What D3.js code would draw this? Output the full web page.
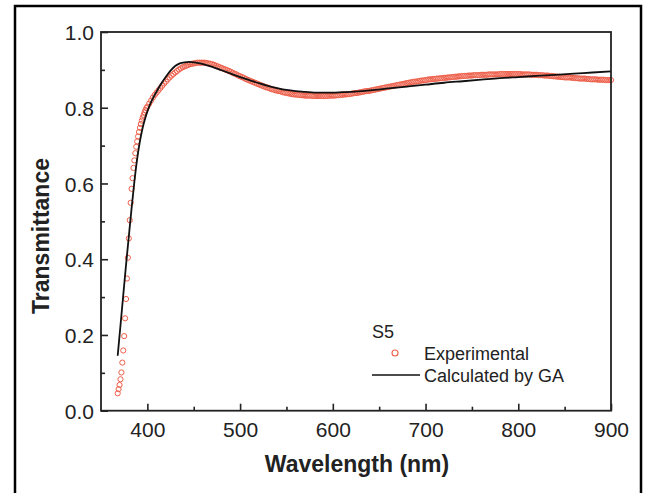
<!DOCTYPE html>
<html>
<head>
<meta charset="utf-8">
<script src="https://cdn.jsdelivr.net/npm/d3@7"></script>
<style>
  body { margin: 0; background: #fff; }
  text { font-family: "Liberation Sans", Arial, Helvetica, sans-serif; fill: #222; }
</style>
</head>
<body>
<script>
// Experimental points (wavelength nm, transmittance)
var expWl = [368, 369, 370, 371, 372, 373, 374, 375, 376, 377, 378, 379, 380, 381, 382, 383, 384, 385, 386, 387, 388, 389, 390, 391, 392, 393, 394, 395, 396, 397, 398, 399,
  400, 402, 404, 406, 408, 410, 412, 414, 416, 418,
  420, 422, 424, 426, 428, 430, 432, 434, 436, 438,
  440, 442, 444, 446, 448, 450, 452, 454, 456, 458,
  460, 462, 464, 466, 468, 470, 472, 474, 476, 478,
  480, 482, 484, 486, 488, 490, 492, 494, 496, 498,
  500, 502, 504, 506, 508, 510, 512, 514, 516, 518,
  520, 522, 524, 526, 528, 530, 532, 534, 536, 538,
  540, 542, 544, 546, 548, 550, 552, 554, 556, 558,
  560, 562, 564, 566, 568, 570, 572, 574, 576, 578,
  580, 582, 584, 586, 588, 590, 592, 594, 596, 598,
  600, 602, 604, 606, 608, 610, 612, 614, 616, 618,
  620, 622, 624, 626, 628, 630, 632, 634, 636, 638,
  640, 642, 644, 646, 648, 650, 652, 654, 656, 658,
  660, 662, 664, 666, 668, 670, 672, 674, 676, 678,
  680, 682, 684, 686, 688, 690, 692, 694, 696, 698,
  700, 702, 704, 706, 708, 710, 712, 714, 716, 718,
  720, 722, 724, 726, 728, 730, 732, 734, 736, 738,
  740, 742, 744, 746, 748, 750, 752, 754, 756, 758,
  760, 762, 764, 766, 768, 770, 772, 774, 776, 778,
  780, 782, 784, 786, 788, 790, 792, 794, 796, 798,
  800, 802, 804, 806, 808, 810, 812, 814, 816, 818,
  820, 822, 824, 826, 828, 830, 832, 834, 836, 838,
  840, 842, 844, 846, 848, 850, 852, 854, 856, 858,
  860, 862, 864, 866, 868, 870, 872, 874, 876, 878,
  880, 882, 884, 886, 888, 890, 892, 894, 896, 898,
  900];
var expT = [0.046, 0.057, 0.068, 0.083, 0.101, 0.127, 0.159, 0.197, 0.244, 0.295, 0.349, 0.404, 0.455, 0.503, 0.549, 0.586, 0.614, 0.641, 0.661, 0.680, 0.697, 0.711, 0.724, 0.736, 0.747, 0.757, 0.766, 0.774, 0.781, 0.788, 0.794, 0.799,
  0.803, 0.811, 0.819, 0.827, 0.834, 0.840, 0.846, 0.852, 0.858, 0.864,
  0.869, 0.875, 0.880, 0.885, 0.889, 0.893, 0.897, 0.901, 0.904, 0.907,
  0.909, 0.911, 0.913, 0.915, 0.916, 0.917, 0.918, 0.919, 0.919, 0.919,
  0.919, 0.919, 0.918, 0.917, 0.916, 0.915, 0.913, 0.911, 0.909, 0.907,
  0.905, 0.903, 0.901, 0.899, 0.897, 0.895, 0.892, 0.890, 0.888, 0.885,
  0.883, 0.881, 0.879, 0.876, 0.874, 0.872, 0.870, 0.868, 0.866, 0.864,
  0.862, 0.860, 0.858, 0.856, 0.854, 0.853, 0.851, 0.849, 0.848, 0.846,
  0.845, 0.844, 0.843, 0.841, 0.840, 0.839, 0.838, 0.837, 0.836, 0.835,
  0.835, 0.834, 0.834, 0.833, 0.833, 0.832, 0.832, 0.832, 0.832, 0.831,
  0.831, 0.831, 0.831, 0.831, 0.831, 0.831, 0.831, 0.831, 0.832, 0.832,
  0.832, 0.832, 0.833, 0.833, 0.834, 0.834, 0.835, 0.835, 0.836, 0.836,
  0.837, 0.838, 0.839, 0.839, 0.840, 0.841, 0.842, 0.843, 0.844, 0.844,
  0.845, 0.846, 0.847, 0.848, 0.849, 0.850, 0.851, 0.852, 0.853, 0.854,
  0.855, 0.856, 0.857, 0.858, 0.859, 0.860, 0.861, 0.862, 0.863, 0.864,
  0.865, 0.866, 0.867, 0.868, 0.869, 0.869, 0.870, 0.871, 0.872, 0.872,
  0.873, 0.874, 0.875, 0.875, 0.876, 0.876, 0.877, 0.877, 0.878, 0.878,
  0.879, 0.879, 0.880, 0.880, 0.881, 0.881, 0.882, 0.882, 0.883, 0.883,
  0.884, 0.884, 0.884, 0.885, 0.885, 0.885, 0.886, 0.886, 0.886, 0.886,
  0.887, 0.887, 0.887, 0.887, 0.888, 0.888, 0.888, 0.888, 0.888, 0.888,
  0.889, 0.889, 0.889, 0.889, 0.889, 0.889, 0.889, 0.889, 0.889, 0.889,
  0.889, 0.889, 0.888, 0.888, 0.888, 0.888, 0.888, 0.887, 0.887, 0.887,
  0.887, 0.886, 0.886, 0.886, 0.885, 0.885, 0.885, 0.884, 0.884, 0.883,
  0.883, 0.882, 0.882, 0.881, 0.881, 0.880, 0.880, 0.880, 0.880, 0.879,
  0.879, 0.878, 0.878, 0.877, 0.877, 0.877, 0.877, 0.876, 0.876, 0.875,
  0.875, 0.875, 0.875, 0.874, 0.874, 0.874, 0.874, 0.873, 0.873, 0.873,
  0.873];

// GA fit curve
var gaWl = [368, 371, 374, 377, 380, 383, 386, 389, 392, 395, 398, 401, 405, 410, 415, 420, 425, 430, 435, 440, 445, 450, 455, 460, 470, 480, 490,
  500, 510, 520, 530, 540, 550, 560, 570, 580, 590, 600, 610, 620, 640, 660, 680, 700, 720, 740, 760, 780, 800, 820, 840, 860, 880, 900];
var gaT = [0.145, 0.225, 0.305, 0.385, 0.460, 0.535, 0.605, 0.665, 0.712, 0.748, 0.775, 0.797, 0.820, 0.843, 0.864, 0.882, 0.898, 0.910, 0.917, 0.920, 0.921, 0.920, 0.918, 0.915, 0.908, 0.899, 0.890,
  0.881, 0.873, 0.865, 0.858, 0.852, 0.847, 0.844, 0.842, 0.840, 0.840, 0.840, 0.841, 0.842, 0.846, 0.851, 0.856, 0.861, 0.866, 0.870, 0.874, 0.878, 0.881, 0.884, 0.887, 0.890, 0.893, 0.896];

var xTicks = [400, 500, 600, 700, 800, 900];
var xMinor = [450, 550, 650, 750, 850];
var yTicks = [0, 0.2, 0.4, 0.6, 0.8, 1.0];
var yMinor = [0.1, 0.3, 0.5, 0.7, 0.9];

window.onload = () => {
  var W = 646, H = 493;
  var left = 101, right = 611, top = 32, bottom = 410.7;

  var svg = d3.select("body").append("svg")
    .attr("width", W)
    .attr("height", H);

  // outer frame
  svg.append("rect")
    .attr("x", 15).attr("y", 6)
    .attr("width", 626).attr("height", 500)
    .attr("fill", "none")
    .attr("stroke", "#000")
    .attr("stroke-width", 2.5);

  var x = d3.scaleLinear().domain([350, 900]).range([left, right]);
  var y = d3.scaleLinear().domain([0, 1]).range([bottom, top]);

  var plot = svg.append("g");

  // experimental circles
  var pts = expWl.map(function (w, i) { return { w: w, t: expT[i] }; });
  plot.selectAll("circle.exp")
    .data(pts)
    .enter().append("circle")
    .attr("class", "exp")
    .attr("cx", function (d) { return x(d.w); })
    .attr("cy", function (d) { return y(d.t); })
    .attr("r", 2.6)
    .attr("fill", "none")
    .attr("stroke", "#ee5f4a")
    .attr("stroke-width", 1);

  // GA curve
  var ga = gaWl.map(function (w, i) { return { w: w, t: gaT[i] }; });
  var line = d3.line()
    .x(function (d) { return x(d.w); })
    .y(function (d) { return y(d.t); })
    .curve(d3.curveMonotoneX);
  plot.append("path")
    .datum(ga)
    .attr("d", line)
    .attr("fill", "none")
    .attr("stroke", "#111")
    .attr("stroke-width", 1.8);

  // axes (ticks inside)
  var xAxis = svg.append("g")
    .attr("transform", "translate(0," + bottom + ")")
    .call(d3.axisBottom(x).tickValues(xTicks).tickSizeInner(-7).tickSizeOuter(0).tickPadding(0).tickFormat(d3.format("d")));
  svg.append("g")
    .attr("transform", "translate(0," + bottom + ")")
    .call(d3.axisBottom(x).tickValues(xMinor).tickSizeInner(-4).tickSizeOuter(0).tickFormat(""));
  var yAxis = svg.append("g")
    .attr("transform", "translate(" + left + ",0)")
    .call(d3.axisLeft(y).tickValues(yTicks).tickSizeInner(-7).tickSizeOuter(0).tickPadding(0).tickFormat(d3.format(".1f")));
  svg.append("g")
    .attr("transform", "translate(" + left + ",0)")
    .call(d3.axisLeft(y).tickValues(yMinor).tickSizeInner(-4).tickSizeOuter(0).tickFormat(""));

  svg.selectAll(".domain").remove();
  svg.selectAll(".tick line").attr("stroke", "#222").attr("stroke-width", 1.6);

  xAxis.selectAll("text")
    .attr("y", 26).attr("dy", 0)
    .style("font-size", "21px")
    .attr("fill", "#222");
  yAxis.selectAll("text")
    .attr("x", -7).attr("dy", "0.36em")
    .style("font-size", "21px")
    .attr("fill", "#222");

  // plot frame
  svg.append("rect")
    .attr("x", left).attr("y", top)
    .attr("width", right - left).attr("height", bottom - top)
    .attr("fill", "none")
    .attr("stroke", "#222")
    .attr("stroke-width", 1.8);

  // axis titles
  svg.append("text")
    .attr("x", 357).attr("y", 472)
    .attr("text-anchor", "middle")
    .style("font-size", "23px")
    .style("font-weight", "bold")
    .text("Wavelength (nm)");
  svg.append("text")
    .attr("transform", "translate(49,236) rotate(-90)")
    .attr("text-anchor", "middle")
    .style("font-size", "23px")
    .style("font-weight", "bold")
    .text("Transmittance");

  // legend
  svg.append("text")
    .attr("x", 372).attr("y", 338)
    .style("font-size", "18px")
    .text("S5");
  svg.append("circle")
    .attr("cx", 395).attr("cy", 353)
    .attr("r", 3)
    .attr("fill", "none")
    .attr("stroke", "#ee5f4a")
    .attr("stroke-width", 1.1);
  svg.append("text")
    .attr("x", 424).attr("y", 360)
    .style("font-size", "18px")
    .text("Experimental");
  svg.append("line")
    .attr("x1", 372).attr("x2", 420)
    .attr("y1", 375).attr("y2", 375)
    .attr("stroke", "#111")
    .attr("stroke-width", 1.6);
  svg.append("text")
    .attr("x", 424).attr("y", 382)
    .style("font-size", "18px")
    .text("Calculated by GA");
};
</script>
</body>
</html>
